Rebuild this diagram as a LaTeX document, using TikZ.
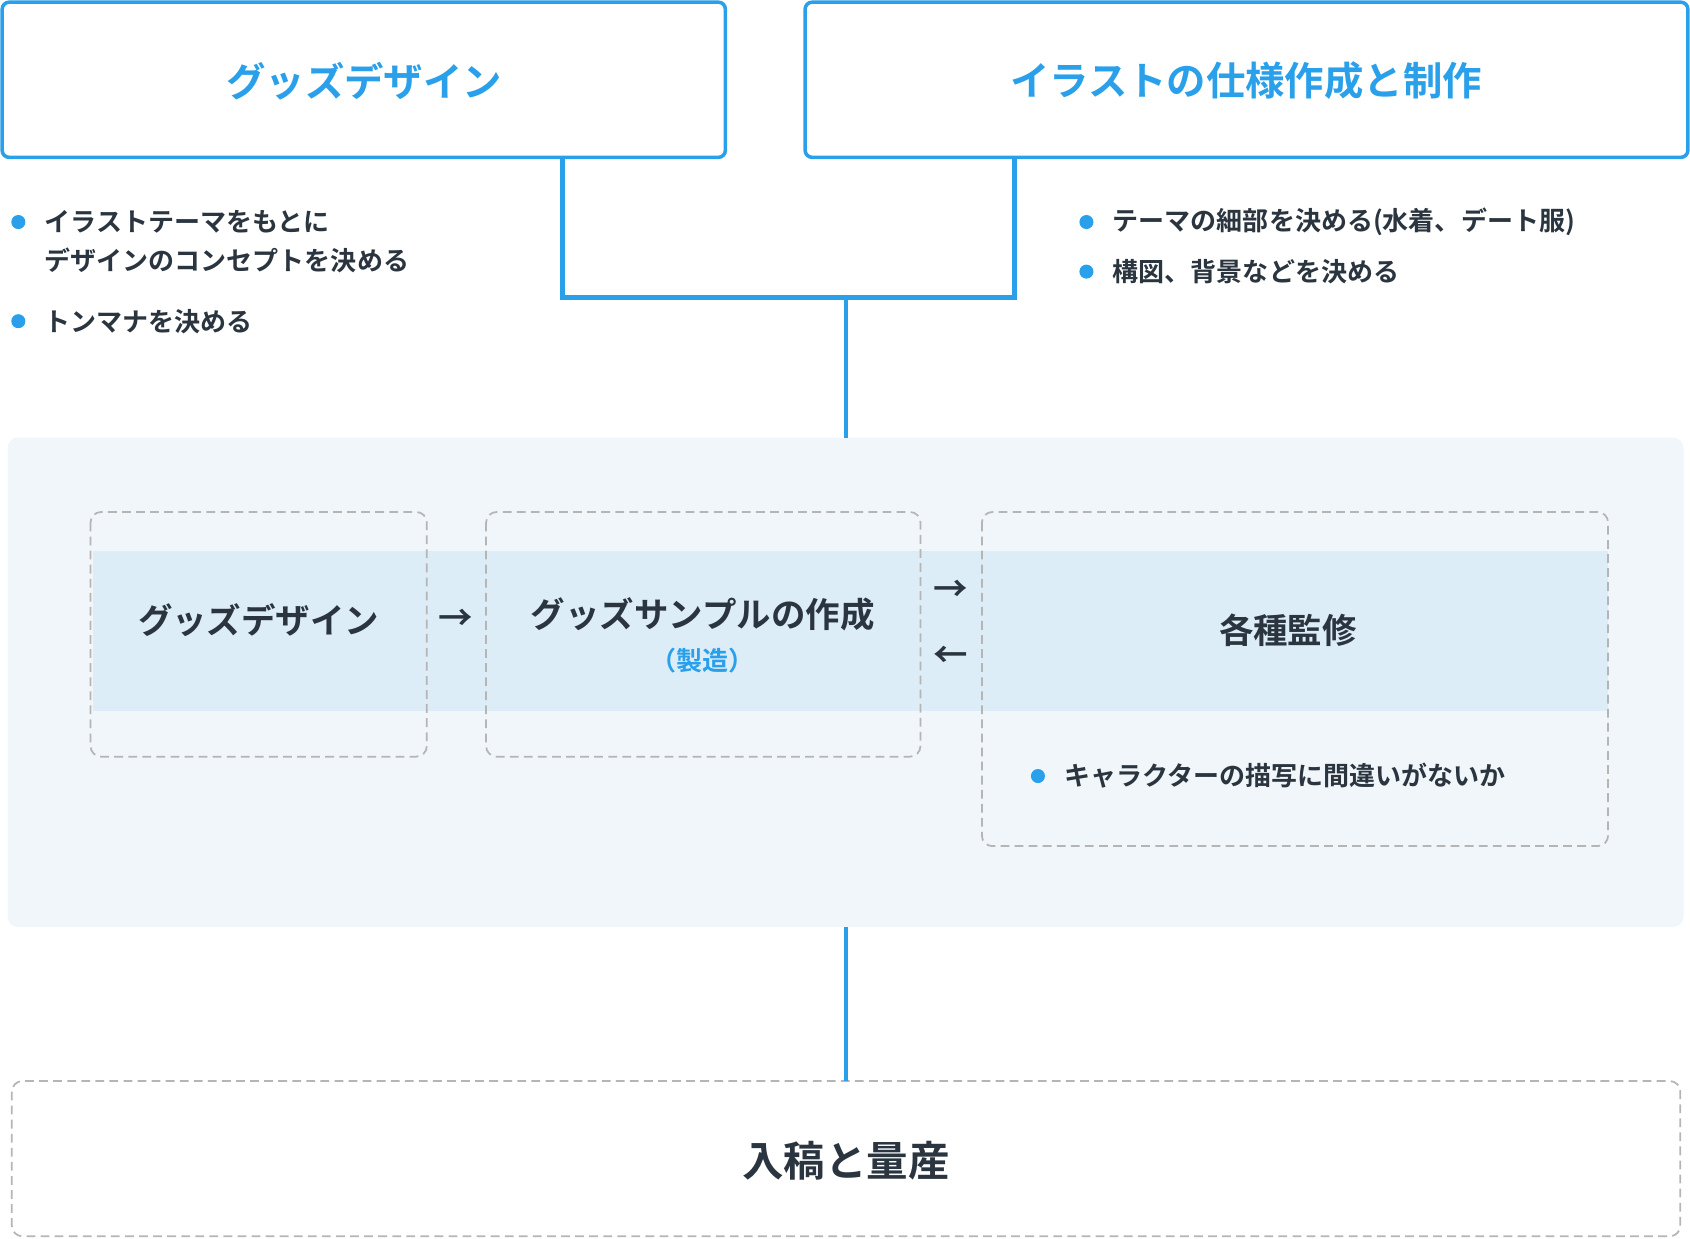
\documentclass[tikz,border=0pt]{standalone}
\usepackage{fontspec}
\setmainfont{Noto Sans CJK JP}[BoldFont={* Bold}]
\usepackage{xcolor}
\definecolor{skyblue}{HTML}{2AA0EA}
\definecolor{inkdark}{HTML}{2B3540}
\definecolor{panelgrey}{HTML}{F1F6FA}
\definecolor{bandblue}{HTML}{DDEDF7}
\definecolor{dashgrey}{HTML}{B5B5B5}
\tikzset{
  headbox/.style={draw=skyblue, line width=1pt, rounded corners=2pt},
  dashbox/.style={draw=dashgrey, line width=0.5pt, dash pattern=on 2.5pt off 1.5pt, rounded corners=3pt},
  link/.style={draw=skyblue, line width=1.3pt},
  bullettext/.style={anchor=west, text=inkdark, font=\fontsize{7.4}{11}\selectfont\bfseries, align=left},
  dot/.style={circle, fill=skyblue, inner sep=0pt, minimum size=4pt}
}
\begin{document}
\begin{tikzpicture}[x=0.01078cm, y=-0.01078cm]
    \useasboundingbox (0,0) rectangle (1568,1149);
    % Panels
    \fill[panelgrey, rounded corners=3pt] (7,406) rectangle (1562,860);
    \fill[bandblue] (86,511) rectangle (1492,660);
    % Nodes
    \draw[headbox] (2,2) rectangle (673,146);
    \node (goods) at (338,75) [text=skyblue, font=\fontsize{11.2}{13}\selectfont\bfseries] {グッズデザイン};
    \draw[headbox] (747,2) rectangle (1566,146);
    \node (illust) at (1156,75) [text=skyblue, font=\fontsize{11.2}{13}\selectfont\bfseries] {イラストの仕様作成と制作};
    \coordinate (goodsb) at (522,146);
    \coordinate (illustb) at (941,146);
    \coordinate (joinl) at (522,276);
    \coordinate (joinr) at (941,276);
    \coordinate (joinm) at (785,276);
    \coordinate (paneltop) at (785,406);
    \coordinate (panelbot) at (785,860);
    \coordinate (lasttop) at (785,1003);

    \node (d1) at (17,206) [dot] {};
    \node (t1) at (30,224) [bullettext] {イラストテーマをもとに\\デザインのコンセプトを決める};
    \node (d2) at (17,298) [dot] {};
    \node (t2) at (30,298) [bullettext] {トンマナを決める};
    \node (d3) at (1008,206) [dot] {};
    \node (t3) at (1021,206) [bullettext] {テーマの細部を決める(水着、デート服)};
    \node (d4) at (1008,252) [dot] {};
    \node (t4) at (1021,252) [bullettext] {構図、背景などを決める};

    \draw[dashbox] (84,475) rectangle (396,702);
    \draw[dashbox] (451,475) rectangle (854,702);
    \draw[dashbox] (911,475) rectangle (1492,785);
    \node (step1) at (240,575) [text=inkdark, font=\fontsize{9.8}{12}\selectfont\bfseries] {グッズデザイン};
    \node (arr1) at (423,575) [text=inkdark, font=\fontsize{9.8}{12}\selectfont\bfseries] {→};
    \node (step2) at (652,570) [text=inkdark, font=\fontsize{9.8}{12}\selectfont\bfseries] {グッズサンプルの作成};
    \node (step2s) at (652,613) [text=skyblue, font=\fontsize{7.4}{9}\selectfont\bfseries] {（製造）};
    \node (arr2) at (882,548) [text=inkdark, font=\fontsize{9.8}{12}\selectfont\bfseries] {→};
    \node (arr3) at (882,609) [text=inkdark, font=\fontsize{9.8}{12}\selectfont\bfseries] {←};
    \node (step3) at (1195,585) [text=inkdark, font=\fontsize{9.8}{12}\selectfont\bfseries] {各種監修};
    \node (d5) at (963,720) [dot] {};
    \node (t5) at (976,720) [bullettext] {キャラクターの描写に間違いがないか};

    \draw[dashbox] (11,1003) rectangle (1559,1147);
    \node (final) at (785,1077) [text=inkdark, font=\fontsize{11.8}{14}\selectfont\bfseries] {入稿と量産};

    % Links
    \draw[link] (goodsb) -- (joinl) -- (joinr) -- (illustb);
    \draw[link] (joinm) -- (paneltop);
    \draw[link] (panelbot) -- (lasttop);
  \end{tikzpicture}
\end{document}
